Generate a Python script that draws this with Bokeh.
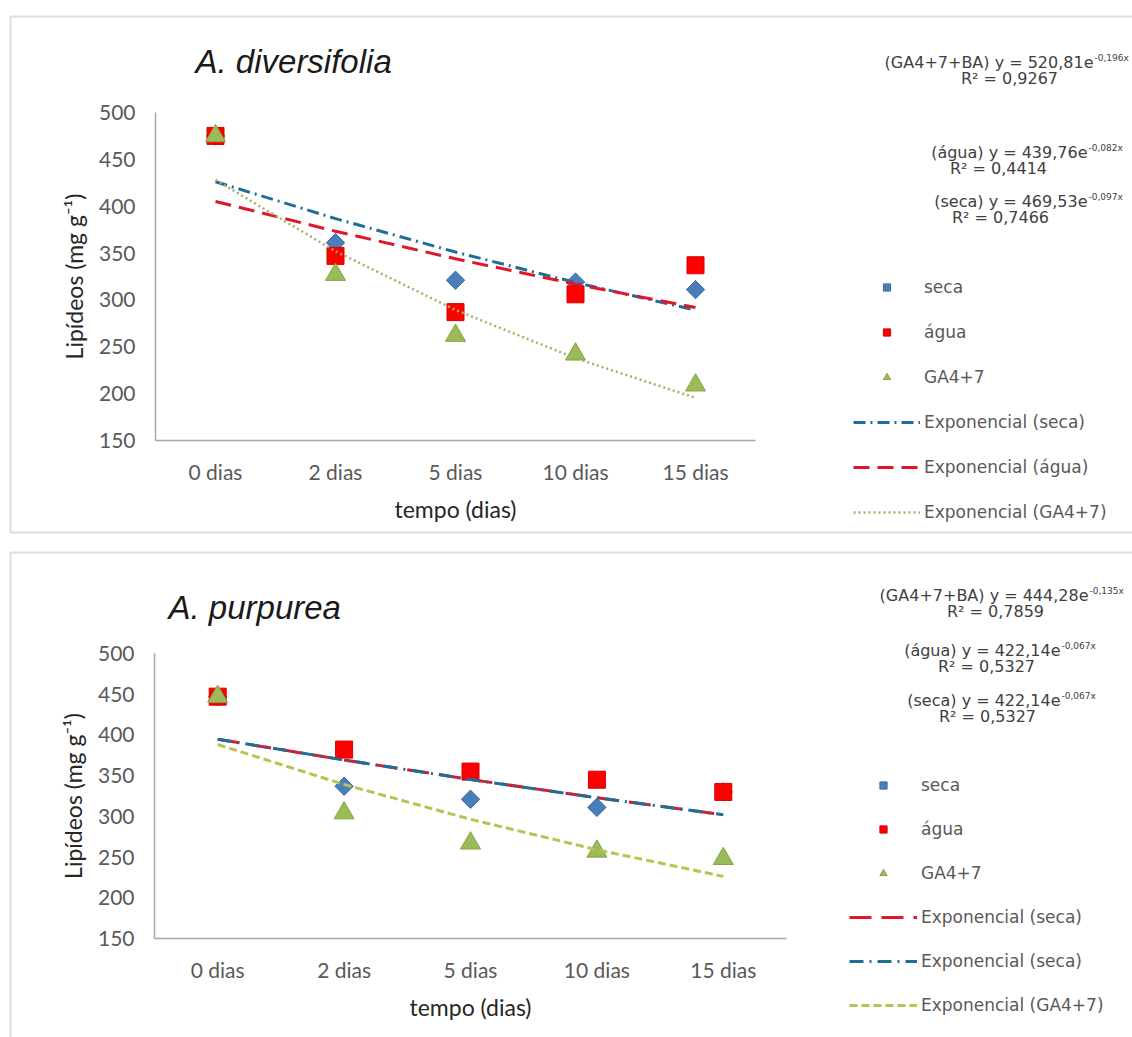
import numpy as np
from bokeh.plotting import figure
from bokeh.models import (Range1d, Label, Legend, LegendItem, BoxAnnotation, FixedTicker)
from bokeh.layouts import column
from bokeh.embed import file_html
from bokeh.resources import INLINE

# ---------------- data ----------------
categories = ["0 dias", "2 dias", "5 dias", "10 dias", "15 dias"]
y_ticks = [150, 200, 250, 300, 350, 400, 450, 500]

# A. diversifolia
div_seca = [475, 361, 321, 319, 311]
div_agua = [475, 347, 287, 306, 337]
div_ga = [475, 327, 262, 242, 209]
div_fit_seca = [426.1, 386.8, 351.1, 318.6, 289.1]
div_fit_agua = [405.1, 373.3, 343.9, 316.8, 291.9]
div_fit_ga = [428.1, 351.9, 289.3, 237.8, 195.5]
div_equations = [("(GA4+7+BA) y = 520,81e", "-0,196x", "R² = 0,9267"),
                 ("(água) y = 439,76e", "-0,082x", "R² = 0,4414"),
                 ("(seca) y = 469,53e", "-0,097x", "R² = 0,7466")]

# A. purpurea
pur_seca = [447, 337, 321, 311, 330]
pur_agua = [447, 382, 355, 345, 330]
pur_ga = [447, 304, 267, 257, 248]
pur_fit_seca = [394.8, 369.2, 345.3, 322.9, 302.0]
pur_fit_ga = [388.2, 339.2, 296.4, 259.0, 226.3]
pur_equations = [("(GA4+7+BA) y = 444,28e", "-0,135x", "R² = 0,7859"),
                 ("(água) y = 422,14e", "-0,067x", "R² = 0,5327"),
                 ("(seca) y = 422,14e", "-0,067x", "R² = 0,5327")]

# category positions on a numeric scale (band centres)
x_pos = [i + 0.5 for i in range(len(categories))]

SECA_C = "#4A7EBB"
AGUA_C = "#FF0000"
GA_C = "#9BBB59"
FIT_BLUE = "#1F6E95"
FIT_RED = "#E0162B"
TXT = "#404040"
TICK_TXT = "#595959"

W = 1132


def base_fig(height, page_top, f_left, f_top, f_bottom, x0_page, band, y500_page, ppu):
    """Frame spans the whole panel; axes are placed at fixed locations."""
    x_start = (f_left - x0_page) / band
    x_end = (W - x0_page) / band
    y_end = 500 + (y500_page - f_top) / ppu
    y_start = 500 - (f_bottom - y500_page) / ppu
    p = figure(width=W, height=height, title=None,
               x_range=Range1d(x_start, x_end), y_range=Range1d(y_start, y_end),
               output_backend="svg", toolbar_location=None,
               min_border_left=f_left, min_border_right=0,
               min_border_top=f_top - page_top,
               min_border_bottom=page_top + height - f_bottom)
    p.xgrid.visible = False
    p.ygrid.visible = False
    p.outline_line_color = None
    p.background_fill_color = "white"
    p.border_fill_color = "white"
    p.yaxis.ticker = FixedTicker(ticks=y_ticks)
    p.yaxis.fixed_location = 0
    p.yaxis.bounds = (150, 500)
    p.xaxis.ticker = FixedTicker(ticks=x_pos)
    p.xaxis.major_label_overrides = {x: c for x, c in zip(x_pos, categories)}
    p.xaxis.fixed_location = 150
    p.xaxis.bounds = (0, len(categories))
    for ax in (p.xaxis, p.yaxis):
        ax.axis_line_color = "#a6a6a6"
        ax.axis_line_width = 1.5
        ax.major_tick_line_color = None
        ax.minor_tick_line_color = None
        ax.major_tick_out = 0
        ax.major_tick_in = 0
        ax.major_label_text_font = "Lato"
        ax.major_label_text_font_size = "21px"
        ax.major_label_text_color = TICK_TXT
        ax.axis_label_text_font = "Lato"
        ax.axis_label_text_font_size = "23px"
        ax.axis_label_text_font_style = "normal"
        ax.axis_label_text_color = "#262626"
    p.yaxis.major_label_standoff = 20
    p.xaxis.major_label_standoff = 18
    p.yaxis.axis_label = "Lipídeos (mg g⁻¹)"
    p.xaxis.axis_label = "tempo (dias)"
    p.yaxis.axis_label_standoff = 8
    p.xaxis.axis_label_standoff = 8
    return p


def add_panel_decor(p, fl, fb, top, bottom, title, title_xy, eqs, eq_pos):
    sx = lambda x: x - fl
    sy = lambda y: fb - y
    p.add_layout(BoxAnnotation(left=sx(10), right=sx(1145), top=sy(top), bottom=sy(bottom),
                               left_units="screen", right_units="screen",
                               top_units="screen", bottom_units="screen",
                               fill_alpha=0, line_color="#8c8c8c", line_width=2))
    p.add_layout(Label(x=sx(title_xy[0]), y=sy(title_xy[1]), x_units="screen", y_units="screen",
                       text=title, text_font="Liberation Sans", text_font_style="italic",
                       text_font_size="33px", text_color="#1a1a1a", text_baseline="middle"))
    for (main, sup, r2), (ex, ey, rx, ry) in zip(eqs, eq_pos):
        p.add_layout(Label(x=sx(ex), y=sy(ey), x_units="screen", y_units="screen", text=main,
                           text_font="DejaVu Sans", text_font_size="16px", text_color=TXT,
                           text_align="right", text_baseline="middle"))
        p.add_layout(Label(x=sx(ex + 1), y=sy(ey - 5), x_units="screen", y_units="screen", text=sup,
                           text_font="DejaVu Sans", text_font_size="9px", text_color=TXT,
                           text_align="left", text_baseline="middle"))
        p.add_layout(Label(x=sx(rx), y=sy(ry), x_units="screen", y_units="screen", text=r2,
                           text_font="DejaVu Sans", text_font_size="16px", text_color=TXT,
                           text_align="center", text_baseline="middle"))


def scatter_series(p, seca, agua, ga):
    r1 = p.scatter(x_pos, seca, marker="square", angle=np.pi / 4, size=13,
                   fill_color=SECA_C, line_color="#3b6ca8")
    r2 = p.scatter(x_pos, agua, marker="square", size=17,
                   fill_color=AGUA_C, line_color="#d40000")
    r3 = p.scatter(x_pos, ga, marker="triangle", size=20,
                   fill_color=GA_C, line_color="#86a347")
    return r1, r2, r3


def make_legend(items, loc, gw, spacing):
    return Legend(items=items, location=loc, orientation="vertical",
                  glyph_width=gw, glyph_height=18, label_height=20, spacing=spacing,
                  padding=0, margin=0, label_standoff=4,
                  background_fill_alpha=0, border_line_color=None,
                  label_text_font="DejaVu Sans", label_text_font_size="17px",
                  label_text_color=TICK_TXT)


# ---------------- top panel (page y 0..545) ----------------
FL1, FT1, FB1 = 8, 14, 534
p1 = base_fig(545, 0, FL1, FT1, FB1, 155, 120.0, 112, 328 / 350)
s1, a1, g1 = scatter_series(p1, div_seca, div_agua, div_ga)
l1 = p1.line(x_pos, div_fit_seca, line_color=FIT_BLUE, line_width=3, line_dash="12 5 2 5")
l2 = p1.line(x_pos, div_fit_agua, line_color=FIT_RED, line_width=3, line_dash="16 8")
l3 = p1.line(x_pos, div_fit_ga, line_color="#A8B060", line_width=2.5, line_dash="2 3")
add_panel_decor(p1, FL1, FB1, 16, 532, "A. diversifolia", (195, 61), div_equations,
                [(1093, 62, 1009, 78), (1087, 152, 998, 168), (1087, 201, 1000, 217)])
p1.add_layout(make_legend([LegendItem(label="seca", renderers=[s1]),
                           LegendItem(label="água", renderers=[a1]),
                           LegendItem(label="GA4+7", renderers=[g1]),
                           LegendItem(label="Exponencial (seca)", renderers=[l1]),
                           LegendItem(label="Exponencial (água)", renderers=[l2]),
                           LegendItem(label="Exponencial (GA4+7)", renderers=[l3])],
                          (853 - FL1, FB1 - 522), 67, 25))

# ---------------- bottom panel (page y 545..1037) ----------------
FL2, FT2, FB2 = 8, 550, 1037
p2 = base_fig(492, 545, FL2, FT2, FB2, 154, 126.4, 653, 285 / 350)
s2, a2, g2 = scatter_series(p2, pur_seca, pur_agua, pur_ga)
m1 = p2.line(x_pos, pur_fit_seca, line_color=FIT_RED, line_width=3, line_dash="22 10")
m2 = p2.line(x_pos, pur_fit_seca, line_color=FIT_BLUE, line_width=3, line_dash="14 6 2 6")
m3 = p2.line(x_pos, pur_fit_ga, line_color="#B5C650", line_width=3, line_dash="8 4")
add_panel_decor(p2, FL2, FB2, 552, 1050, "A. purpurea", (168, 607), pur_equations,
                [(1088, 595, 995, 611), (1060, 650, 986, 666), (1060, 700, 987, 716)])
p2.add_layout(make_legend([LegendItem(label="seca", renderers=[s2]),
                           LegendItem(label="água", renderers=[a2]),
                           LegendItem(label="GA4+7", renderers=[g2]),
                           LegendItem(label="Exponencial (seca)", renderers=[m1]),
                           LegendItem(label="Exponencial (seca)", renderers=[m2]),
                           LegendItem(label="Exponencial (GA4+7)", renderers=[m3])],
                          (849 - FL2, FB2 - 1015), 68, 24))

layout = column(p1, p2, spacing=0)
open("out.html", "w").write(file_html(layout, INLINE))
